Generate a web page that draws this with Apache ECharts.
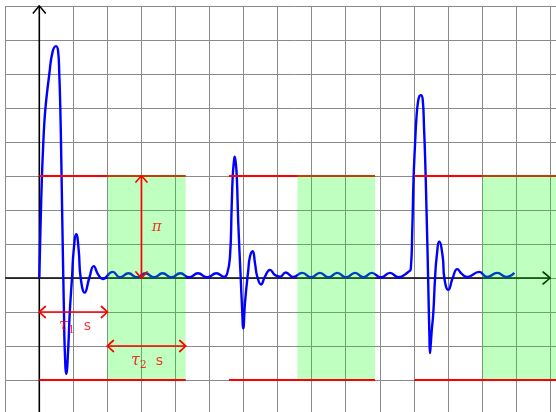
<!DOCTYPE html>
<html><head><meta charset="utf-8">
<script src="https://cdn.jsdelivr.net/npm/echarts@6/dist/echarts.min.js"></script>
<style>html,body{margin:0;padding:0;background:#fff;overflow:hidden}#c{width:585px;height:414px}</style>
</head><body><div id="c"></div>
<script>
// ---- data (x in time units, y in signal units) ----
const pulse1 = [
  [0,0],[0.02,0.85],[0.045,1.85],[0.075,2.9],[0.11,3.8],[0.15,4.6],[0.2,5.2],[0.294,6.0],[0.39,6.65],[0.49,6.82],[0.555,6.65],
  [0.587,6.0],[0.617,5.0],[0.646,3.47],[0.675,1.71],[0.705,0],[0.725,-1.04],[0.745,-2.02],[0.793,-2.82],
  [0.852,-2.02],[0.893,-1.04],[0.96,0],[1.01,0.82],[1.087,1.29],[1.157,0.82],[1.215,0],[1.333,-0.43],
  [1.468,0],[1.598,0.35],[1.73,0.1],[1.862,-0.03],[2.156,0.18],[2.37,0.02],[2.62,0.14],[2.87,0.02],
  [3.12,0.14],[3.37,0.02],[3.62,0.14],[3.88,0.02],[4.14,0.14],[4.4,0.02],[4.66,0.14],[4.93,0.02],
  [5.2,0.14],[5.43,0.03]
];
const pulse2 = [
  [5.52,0.14],[5.6,0.63],[5.65,2.1],[5.68,2.98],[5.71,3.37],[5.739,3.57],[5.77,3.38],[5.8,2.98],
  [5.844,1.61],[5.915,0],[5.953,-0.84],[5.991,-1.48],[6.04,-0.74],[6.138,0.24],[6.188,0.63],[6.267,0.79],
  [6.335,0.43],[6.402,0.04],[6.511,-0.19],[6.628,0.04],[6.775,0.24],[6.92,0.09],[7.07,0.04],[7.236,0.16],
  [7.46,0.03],[7.724,0.15],[7.98,0.02],[8.243,0.15],[8.494,0.02],[8.752,0.15],[9.008,0.02],[9.273,0.15],
  [9.522,0.02],[9.762,0.15],[10.035,0.02],[10.3,0.15],[10.549,0.02]
];
const pulse3 = [
  [10.837,0.18],[10.91,0.26],[10.954,1.41],[10.99,2.88],[11.034,3.91],[11.078,4.74],[11.122,5.18],
  [11.166,5.35],[11.21,5.38],[11.261,5.24],[11.298,4.44],[11.333,3.47],[11.368,2.15],[11.404,0.68],
  [11.433,-0.65],[11.457,-1.68],[11.474,-2.21],[11.495,-1.97],[11.527,-1.53],[11.571,-1.03],[11.621,-0.03],
  [11.671,0.63],[11.747,1.07],[11.847,0.63],[11.895,0],[12.012,-0.35],[12.14,0],
  [12.276,0.26],[12.41,0.12],[12.57,0.03],[12.92,0.18],[13.15,0.03],[13.45,0.15],[13.71,0.03],[13.95,0.15]
];
const levelHigh = 3;          // π
const levelLow = -3;
const redStart = [0, 5.57, 11.01];
const redEnd = [4.3, 9.86, 15.4];
const greenStart = [2, 7.58, 13.01];
const greenEnd = [4.3, 9.86, 15.4];
const dimArrows = [[3,0,3,3],[0,-1,2,-1],[2,-2,4.3,-2]];
const axisLines = [[-1,0,15,0],[0,-4,0,8]];
const labelPi = [3.45, 1.5];
const labelTau1 = [1.05, -1.42];
const labelTau2 = [3.16, -2.45];

// ---- chart ----
const unitX = 34.05, unitY = 34;
const X_MIN = -1, X_MAX = 16, Y_MIN = -4, Y_MAX = 8;
const LEFT = 5.25, TOP = 6;
const el = document.getElementById('c');
const W = el.clientWidth, H = el.clientHeight;
const chart = echarts.init(el, null, {renderer:'canvas'});

function segSeries(data, color, width, z) {
  return {type:'custom', z, silent:true, data,
    renderItem(params, api) {
      const a = api.coord([api.value(0), api.value(1)]);
      const b = api.coord([api.value(2), api.value(3)]);
      return {type:'line', shape:{x1:a[0],y1:a[1],x2:b[0],y2:b[1]},
        style:{stroke:color, lineWidth:width}};
    }};
}
function arrowSeries(data, color, width, head, both, z) {
  return {type:'custom', z, silent:true, data,
    renderItem(params, api) {
      const a = api.coord([api.value(0), api.value(1)]);
      const b = api.coord([api.value(2), api.value(3)]);
      const dx=b[0]-a[0], dy=b[1]-a[1], len=Math.hypot(dx,dy);
      const ux=dx/len, uy=dy/len, nx=-uy, ny=ux;
      const barb = (p, s, side) => ({type:'bezierCurve', shape:{
          x1:p[0]-s*ux*head[0]+side*nx*head[1], y1:p[1]-s*uy*head[0]+side*ny*head[1], x2:p[0], y2:p[1],
          cpx1:p[0]-s*ux*head[0]*0.3+side*nx*head[1]*0.35, cpy1:p[1]-s*uy*head[0]*0.3+side*ny*head[1]*0.35},
        style:{stroke:color, lineWidth:width, fill:'none', lineCap:'round'}});
      const ch = [{type:'line', shape:{x1:a[0],y1:a[1],x2:b[0],y2:b[1]}, style:{stroke:color,lineWidth:width}}, barb(b,1,1), barb(b,1,-1)];
      if (both) { ch.push(barb(a,-1,1)); ch.push(barb(a,-1,-1)); }
      return {type:'group', children:ch};
    }};
}

const topSegs = redStart.map((s,i)=>[s, levelHigh, redEnd[i], levelHigh]);
const lowSegs = redStart.map((s,i)=>[s, levelLow, redEnd[i], levelLow]);
const greens = greenStart.map((s,i)=>[s, levelLow, greenEnd[i], levelHigh]);

const tauRich = {
  t:{fontFamily:'DejaVu Serif', fontStyle:'italic', fontSize:16, color:'#ff0000'},
  sub:{fontFamily:'DejaVu Serif', fontSize:11, color:'#ff0000', padding:[7,0,0,0]},
  s:{fontFamily:'DejaVu Sans', fontSize:14, color:'#ff0000'}
};

chart.setOption({
  animation:false,
  backgroundColor:'#ffffff',
  grid:{left:LEFT, top:TOP, right:Math.max(0, W-LEFT-(X_MAX-X_MIN)*unitX), bottom:Math.max(0, H-TOP-(Y_MAX-Y_MIN)*unitY), containLabel:false},
  xAxis:{type:'value', min:X_MIN, max:X_MAX, interval:1,
    axisLine:{show:false}, axisTick:{show:false}, axisLabel:{show:false},
    splitLine:{show:true, lineStyle:{color:'#8a8a8a', width:1}}},
  yAxis:{type:'value', min:Y_MIN, max:Y_MAX, interval:1,
    axisLine:{show:false}, axisTick:{show:false}, axisLabel:{show:false},
    splitLine:{show:true, lineStyle:{color:'#8a8a8a', width:1}}},
  series:[
    arrowSeries(axisLines, '#000000', 1.6, [7,6], false, 1),
    {type:'line', z:2, data:pulse1.concat(pulse2, pulse3), smooth:0.5, symbol:'none', silent:true,
      lineStyle:{color:'#0000ff', width:2.4}},
    segSeries(topSegs, '#ff0000', 2, 3),
    {type:'custom', z:10, silent:true, data:greens,
      renderItem(params, api){
        const a = api.coord([api.value(0), api.value(1)]);
        const b = api.coord([api.value(2), api.value(3)]);
        return {type:'rect', shape:{x:a[0], y:b[1]-1, width:b[0]-a[0], height:a[1]-b[1]+1},
          style:{fill:'rgba(0,255,0,0.25)'}};
      }},
    segSeries(lowSegs, '#ff0000', 2, 11),
    arrowSeries(dimArrows, '#ff0000', 1.7, [6,5.5], true, 12),
    {type:'scatter', z:13, silent:true, symbolSize:1, itemStyle:{color:'rgba(0,0,0,0)'},
      label:{show:true, position:'inside'},
      data:[
        {value:labelPi, label:{formatter:'π', fontFamily:'DejaVu Serif', fontStyle:'italic', fontSize:15, color:'#ff0000'}},
        {value:labelTau1, label:{formatter:'{t|τ}{sub|1}{s|  s}', rich:tauRich}},
        {value:labelTau2, label:{formatter:'{t|τ}{sub|2}{s|  s}', rich:tauRich}}
      ]}
  ]
});
</script></body></html>
